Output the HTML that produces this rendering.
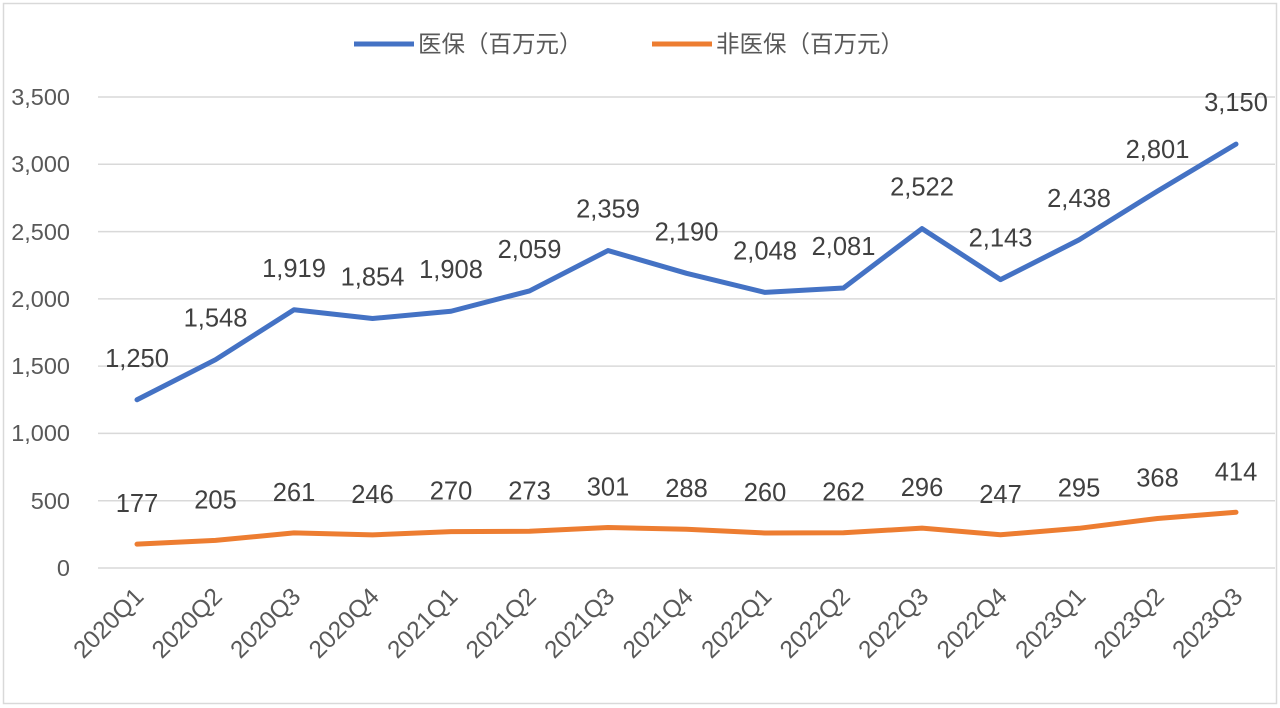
<!DOCTYPE html>
<html><head><meta charset="utf-8"><style>body{margin:0;background:#fff}svg{display:block}</style></head>
<body>
<svg width="1280" height="708" xmlns="http://www.w3.org/2000/svg" font-family="Liberation Sans, Noto Sans CJK SC, sans-serif">
<rect x="3.5" y="3.5" width="1273" height="700" fill="#fff" stroke="#d9d9d9" stroke-width="1.5"/>
<g stroke="#d9d9d9" stroke-width="1.5">
<line x1="98" x2="1275" y1="568" y2="568"/><line x1="98" x2="1275" y1="500.7" y2="500.7"/>
<line x1="98" x2="1275" y1="433.4" y2="433.4"/><line x1="98" x2="1275" y1="366.1" y2="366.1"/>
<line x1="98" x2="1275" y1="298.9" y2="298.9"/><line x1="98" x2="1275" y1="231.6" y2="231.6"/>
<line x1="98" x2="1275" y1="164.3" y2="164.3"/><line x1="98" x2="1275" y1="97" y2="97"/>
</g>
<g fill="#595959" font-size="23.5" text-anchor="end">
<text x="70" y="576">0</text><text x="70" y="509">500</text><text x="70" y="441">1,000</text>
<text x="70" y="374">1,500</text><text x="70" y="307">2,000</text><text x="70" y="240">2,500</text>
<text x="70" y="172">3,000</text><text x="70" y="105">3,500</text>
</g>
<g id="x" fill="#595959" font-size="24.5" text-anchor="end"></g>
<g stroke-width="5" fill="none" stroke-linejoin="round" stroke-linecap="round">
<polyline id="b" stroke="#4472c4"/><polyline id="o" stroke="#ed7d31"/>
</g>
<g id="lb" fill="#404040" font-size="25.5" text-anchor="middle"></g>
<line x1="354" x2="414" y1="44" y2="44" stroke="#4472c4" stroke-width="5"/>
<text x="418" y="52" font-size="23.5" fill="#595959">医保（百万元）</text>
<line x1="652" x2="712" y1="44" y2="44" stroke="#ed7d31" stroke-width="5"/>
<text x="716" y="52" font-size="23.5" fill="#595959">非医保（百万元）</text>
</svg>
<script>
var B=[1250,1548,1919,1854,1908,2059,2359,2190,2048,2081,2522,2143,2438,2801,3150];
var O=[177,205,261,246,270,273,301,288,260,262,296,247,295,368,414];
var L=[];for(var y=2020;y<=2023;y++)for(var q=1;q<=4;q++)L.push(y+'Q'+q);L=L.slice(0,15);
function X(i){return 137+i*78.5}function Y(v){return 568-v*471/3500}
var ns='http://www.w3.org/2000/svg';
document.getElementById('b').setAttribute('points',B.map((v,i)=>X(i)+','+Y(v)).join(' '));
document.getElementById('o').setAttribute('points',O.map((v,i)=>X(i)+','+Y(v)).join(' '));
var lb=document.getElementById('lb'),xg=document.getElementById('x');
function t(p,x,y,s,r){var e=document.createElementNS(ns,'text');e.setAttribute('x',x);e.setAttribute('y',y);e.textContent=s;if(r)e.setAttribute('transform','rotate(-45 '+x+' '+y+')');p.appendChild(e)}
B.forEach((v,i)=>t(lb,X(i),Y(v)-33,v.toLocaleString('en-US')));
O.forEach((v,i)=>t(lb,X(i),Y(v)-32,v));
L.forEach((s,i)=>t(xg,X(i)+8,598,s,1));
</script>
</body></html>
